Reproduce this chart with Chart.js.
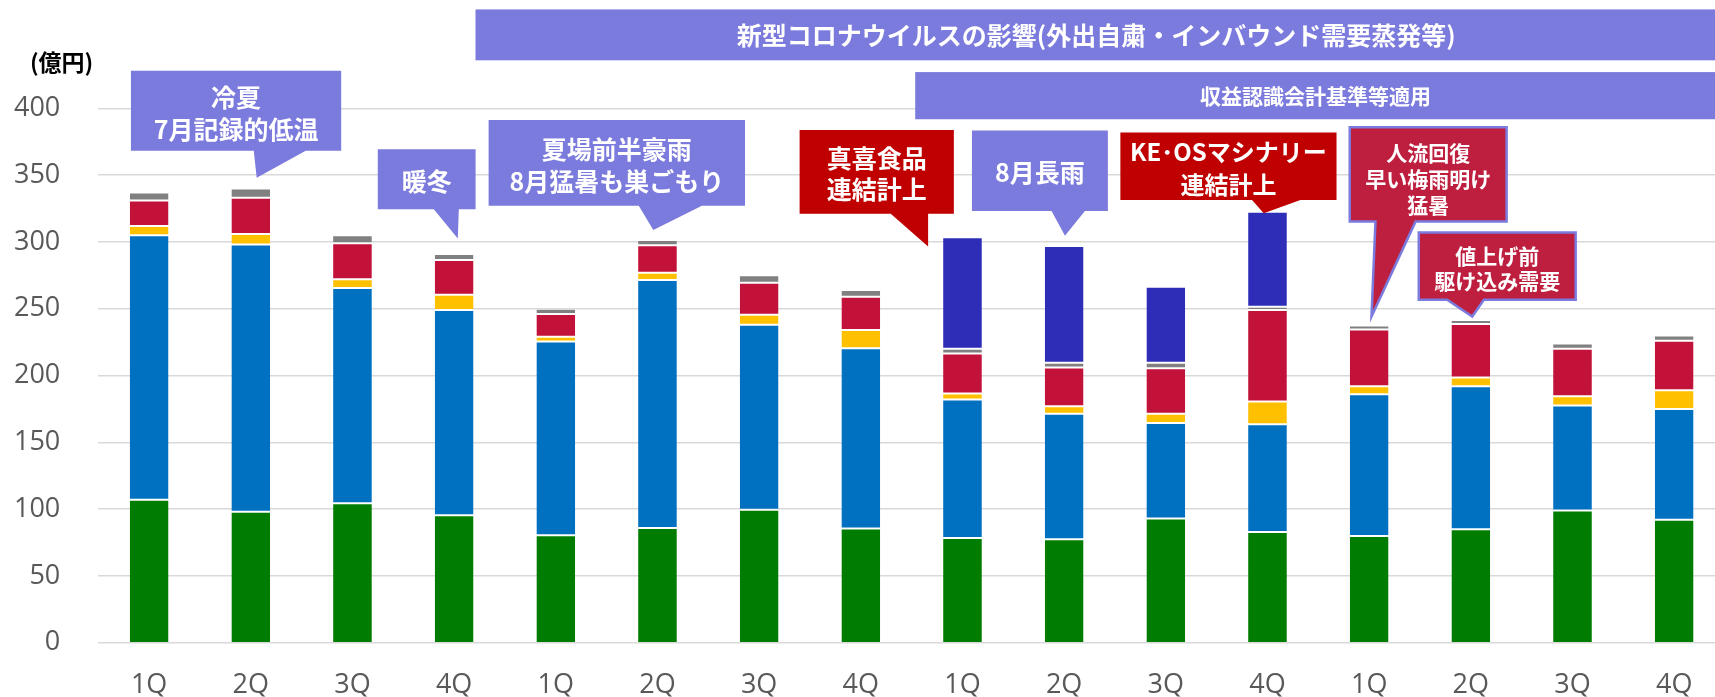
<!DOCTYPE html>
<html lang="ja">
<head>
<meta charset="utf-8">
<title>売上推移</title>
<script src="https://cdn.jsdelivr.net/npm/chart.js@4.4.1/dist/chart.umd.min.js"></script>
<style>
  html, body { margin: 0; padding: 0; background: #ffffff; overflow: hidden; }
  #wrap { width: 1725px; height: 697px; }
  canvas { display: block; }
</style>
</head>
<body>
<div id="wrap"><canvas id="c" width="1725" height="697"></canvas></div>
<script>
// ---- data (億円) ----
const categories = ['1Q','2Q','3Q','4Q','1Q','2Q','3Q','4Q','1Q','2Q','3Q','4Q','1Q','2Q','3Q','4Q'];
const greenSeries  = [107, 98, 104.5, 95.5, 80.5, 86, 99.5, 85.5, 78.5, 77.5, 93, 83, 80, 85, 99, 92];
const blueSeries   = [198, 200, 161, 153.5, 145, 185.5, 138.5, 135, 103.5, 94, 71.5, 80.5, 106, 107, 78.5, 83];
const yellowSeries = [7, 8, 6.5, 11.5, 3.5, 5.5, 7.5, 13.5, 4.5, 5.5, 7, 17, 6, 6.5, 7, 14];
const redSeries    = [19, 27, 27, 26, 17, 20.5, 24, 25, 30, 29, 34, 68.5, 42.5, 40, 35.5, 37];
const graySeries   = [6, 7, 6, 4.5, 4, 4, 5.5, 5, 3.5, 3.5, 4, 2.5, 3, 3, 4, 4];
const navySeries   = [null, null, null, null, null, null, null, null, 83.5, 87.5, 57, 71, null, null, null, null];
const yTickLabels  = ['0','50','100','150','200','250','300','350','400'];
const unitLabel = '(億円)';

// annotations in data space: x = category index, y = value
const banners = [
  { x1: 3.21, x2: 15.6, y1: 474.0, y2: 435.9, tx: 9.316, ty: 454.8, size: 25,
    text: '新型コロナウイルスの影響(外出自粛・インバウンド需要蒸発等)' },
  { x1: 7.535, x2: 15.6, y1: 427.1, y2: 391.8, tx: 11.472, ty: 409.4, size: 21,
    text: '収益認識会計基準等適用' }
];
const callouts = [
  { box: [-0.179, 1.889, 428.1, 368.3], ptr: [1.029, 1.540], tip: [1.058, 348.1],
    lines: ['冷夏', '7月記録的低温'], ly: [408.2, 384.5], kind: 'purple', size: 25 },
  { box: [2.249, 3.211, 369.3, 324.5], ptr: [2.800, 3.046], tip: [3.036, 302.5],
    lines: ['暖冬'], ly: [345.1], kind: 'purple', size: 25 },
  { box: [3.339, 5.861, 391.2, 327.1], ptr: [4.816, 5.437], tip: [4.959, 309.0],
    lines: ['夏場前半豪雨', '8月猛暑も巣ごもり'], ly: [368.8, 344.9], kind: 'purple', size: 25 },
  { box: [6.398, 7.915, 383.8, 321.0], ptr: [7.294, 7.662], tip: [7.662, 296.5],
    lines: ['真喜食品', '連結計上'], ly: [362.1, 338.9], kind: 'red', size: 25 },
  { box: [8.093, 9.430, 383.3, 323.2], ptr: [8.876, 9.204], tip: [9.008, 304.7],
    lines: ['8月長雨'], ly: [351.6], kind: 'purple', size: 25 },
  { box: [9.553, 11.679, 381.8, 331.4], ptr: [10.848, 11.324], tip: [10.963, 321.5],
    lines: ['KE･OSマシナリー', '連結計上'], ly: [367.6, 342.7], kind: 'red', size: 24 },
  { box: [11.809, 13.352, 385.8, 315.2], ptr: [12.062, 12.456], tip: [12.023, 244.2],
    lines: ['人流回復', '早い梅雨明け', '猛暑'], ly: [366.4, 347.0, 327.7], kind: 'crimson', size: 21 },
  { box: [12.488, 14.031, 307.0, 256.7], ptr: [12.767, 13.128], tip: [13.014, 244.2],
    lines: ['値上げ前', '駆け込み需要'], ly: [289.1, 270.4], kind: 'crimson', size: 21 }
];

const COLORS = {
  green: '#007D00', blue: '#0070C0', yellow: '#FFC000', red: '#C3123A', gray: '#808080', navy: '#2E2DB8',
  purple: '#7B7ADD', calloutRed: '#C00000', crimson: '#BF1F3E'
};
const CJK = '"Noto Sans CJK JP", "Noto Sans CJK SC", sans-serif';
const TICKFONT = '"Open Sans", "Noto Sans", sans-serif';

const annotationPlugin = {
  id: 'annotations',
  afterDraw(chart) {
    const ctx = chart.ctx;
    const xs = chart.scales.x, ys = chart.scales.y;
    const X = v => xs.getPixelForValue(v);
    const Y = v => ys.getPixelForValue(v);
    ctx.save();
    // unit label
    ctx.fillStyle = '#000000';
    ctx.font = '700 23px ' + CJK;
    ctx.textAlign = 'center';
    ctx.textBaseline = 'middle';
    ctx.fillText(unitLabel, 61.6, 62.5);

    banners.forEach(b => {
      const x1 = X(b.x1), x2 = X(b.x2), y1 = Y(b.y1), y2 = Y(b.y2);
      ctx.fillStyle = COLORS.purple;
      ctx.fillRect(x1, y1, x2 - x1, y2 - y1);
      ctx.fillStyle = '#ffffff';
      ctx.font = '700 ' + b.size + 'px ' + CJK;
      ctx.fillText(b.text, X(b.tx), Y(b.ty));
    });

    callouts.forEach(c => {
      const x1 = X(c.box[0]), x2 = X(c.box[1]), y1 = Y(c.box[2]), y2 = Y(c.box[3]);
      const pl = X(c.ptr[0]), pr = X(c.ptr[1]);
      const tx = X(c.tip[0]), ty = Y(c.tip[1]);
      ctx.beginPath();
      ctx.moveTo(x1, y1);
      ctx.lineTo(x2, y1);
      ctx.lineTo(x2, y2);
      ctx.lineTo(pr, y2);
      ctx.lineTo(tx, ty);
      ctx.lineTo(pl, y2);
      ctx.lineTo(x1, y2);
      ctx.closePath();
      ctx.fillStyle = c.kind === 'purple' ? COLORS.purple : (c.kind === 'red' ? COLORS.calloutRed : COLORS.crimson);
      ctx.fill();
      if (c.kind === 'crimson') {
        ctx.lineWidth = 2.5;
        ctx.strokeStyle = COLORS.purple;
        ctx.lineJoin = 'miter';
        ctx.stroke();
      }
      ctx.fillStyle = '#ffffff';
      ctx.font = '700 ' + c.size + 'px ' + CJK;
      const cx = (x1 + x2) / 2;
      c.lines.forEach((t, k) => ctx.fillText(t, cx, Y(c.ly[k])));
    });
    ctx.restore();
  }
};

const mk = (label, data, color, isBase) => ({
  label, data, backgroundColor: color,
  borderColor: '#ffffff',
  borderWidth: { top: 1, bottom: isBase ? 0 : 1, left: 0, right: 0 },
  borderSkipped: false,
  categoryPercentage: 1.0,
  barPercentage: 0.381
});

new Chart(document.getElementById('c'), {
  type: 'bar',
  data: {
    labels: categories,
    datasets: [
      mk('green', greenSeries, COLORS.green, true),
      mk('blue', blueSeries, COLORS.blue),
      mk('yellow', yellowSeries, COLORS.yellow),
      mk('red', redSeries, COLORS.red),
      mk('gray', graySeries, COLORS.gray),
      mk('navy', navySeries, COLORS.navy)
    ]
  },
  options: {
    responsive: false,
    animation: false,
    layout: { padding: { top: 108.3, left: 0, right: 0, bottom: 0 } },
    plugins: { legend: { display: false }, tooltip: { enabled: false }, title: { display: false } },
    scales: {
      x: {
        stacked: true,
        grid: { display: false, drawTicks: false },
        border: { display: false },
        ticks: { color: '#595959', font: { family: TICKFONT, size: 27 }, padding: 26, maxRotation: 0, autoSkip: false },
        afterFit: s => { s.height = 53.7; }
      },
      y: {
        stacked: true,
        min: 0, max: 400,
        grid: { color: '#D9D9D9', lineWidth: 1.5, drawTicks: false },
        border: { display: false },
        ticks: {
          stepSize: 50,
          color: '#595959',
          font: { family: TICKFONT, size: 27 },
          padding: 38,
          callback: (v) => yTickLabels[v / 50]
        },
        afterFit: s => { s.width = 98.3; }
      }
    }
  },
  plugins: [annotationPlugin]
});
</script>
</body>
</html>
